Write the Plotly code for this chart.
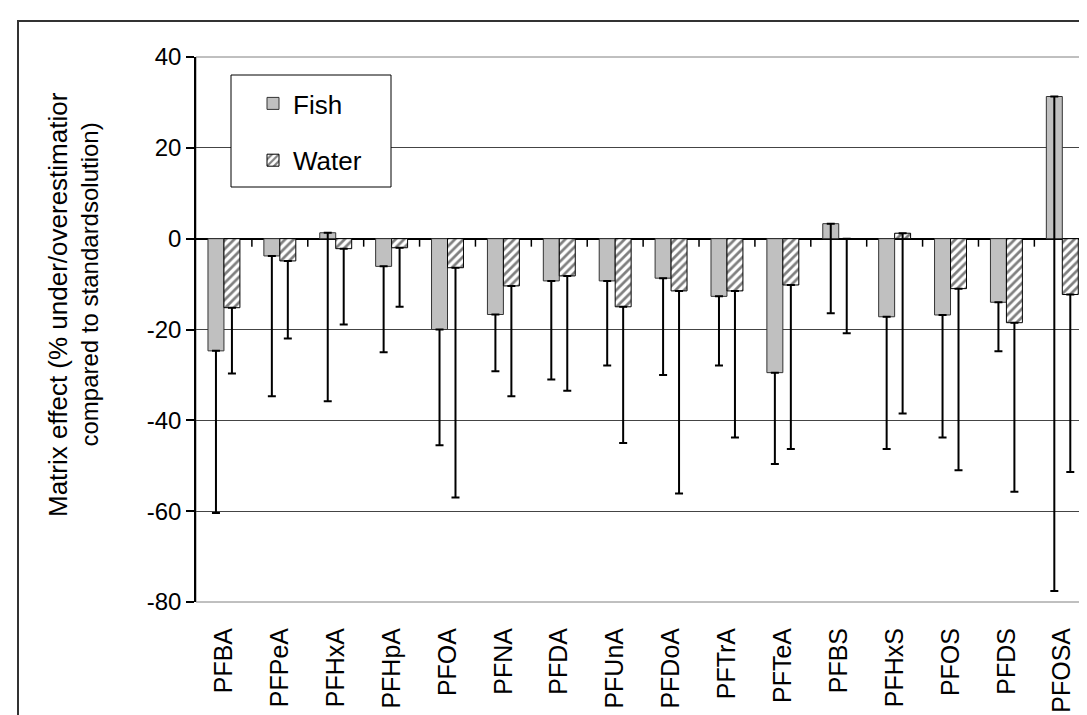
import plotly.graph_objects as go

# ---------------- data ----------------
categories = ["PFBA", "PFPeA", "PFHxA", "PFHpA", "PFOA", "PFNA", "PFDA", "PFUnA",
              "PFDoA", "PFTrA", "PFTeA", "PFBS", "PFHxS", "PFOS", "PFDS", "PFOSA"]
fish = [-24.7, -3.8, 1.3, -6.1, -20.0, -16.7, -9.3, -9.3,
        -8.7, -12.7, -29.5, 3.3, -17.2, -16.8, -14.0, 31.3]
fish_err_minus = [35.7, 30.9, 37.1, 18.9, 25.5, 12.5, 21.7, 18.6,
                  21.3, 15.2, 20.1, 19.7, 29.1, 27.0, 10.8, 108.9]
water = [-15.2, -4.9, -2.2, -2.0, -6.4, -10.4, -8.2, -15.0,
         -11.5, -11.5, -10.2, 0.0, 1.2, -11.0, -18.5, -12.3]
water_err_minus = [14.5, 17.1, 16.7, 13.0, 50.6, 24.3, 25.3, 30.0,
                   44.6, 32.3, 36.1, 20.8, 39.7, 40.0, 37.2, 39.1]
y_ticks = [-80, -60, -40, -20, 0, 20, 40]
y_title_1 = "Matrix effect (% under/overestimatior"
y_title_2 = "compared to standardsolution)"

# ---------------- layout geometry ----------------
W, H = 1087, 715
L, R, T, B = 188, 4, 49, 121
pw, ph = W - L - R, H - T - B


def px(x):
    return (x - L) / pw


def py(y):
    return (H - B - y) / ph


FONT = "Liberation Sans, Arial, sans-serif"

fig = go.Figure()
fig.add_trace(go.Bar(
    name="Fish", x=categories, y=fish,
    marker=dict(color="#c0c0c0", line=dict(color="#333333", width=1)),
    error_y=dict(type="data", symmetric=False, array=[0] * len(fish),
                 arrayminus=fish_err_minus, color="black", thickness=2, width=4),
    legendgroup="f",
))
fig.add_trace(go.Bar(
    name="Water", x=categories, y=water,
    marker=dict(color="white", line=dict(color="black", width=1),
                pattern=dict(shape="/", fgcolor="black", bgcolor="white",
                             size=6, solidity=0.45)),
    error_y=dict(type="data", symmetric=False, array=[0] * len(water),
                 arrayminus=water_err_minus, color="black", thickness=2, width=4),
    legendgroup="w",
))

shapes = []
# outer chart frame (right/bottom run off the page)
shapes.append(dict(type="rect", xref="paper", yref="paper",
                   x0=px(10), y0=py(H + 20), x1=px(W + 20), y1=py(13),
                   line=dict(color="#333333", width=2), layer="below"))
# plot area border
shapes.append(dict(type="rect", xref="paper", yref="paper", x0=0, y0=0, x1=1, y1=1,
                   line=dict(color="#808080", width=1), layer="below"))
# category tick marks on the zero line
for i in range(1, len(categories) + 1):
    shapes.append(dict(type="line", xref="x", yref="y", ysizemode="pixel", yanchor=0,
                       x0=i - 0.5, x1=i - 0.5, y0=0, y1=-8,
                       line=dict(color="black", width=1.5)))
# legend box
shapes.append(dict(type="rect", xref="paper", yref="paper",
                   x0=px(223), x1=px(383), y0=py(179), y1=py(67),
                   line=dict(color="black", width=1), fillcolor="white", layer="above"))

annotations = [
    dict(text=y_title_1, xref="paper", yref="paper", x=px(50), y=py(297),
         textangle=-90, showarrow=False, xanchor="center", yanchor="middle",
         font=dict(family=FONT, size=26, color="black")),
    dict(text=y_title_2, xref="paper", yref="paper", x=px(81), y=py(276.5),
         textangle=-90, showarrow=False, xanchor="center", yanchor="middle",
         font=dict(family=FONT, size=24, color="black")),
]

fig.update_layout(
    width=W, height=H,
    margin=dict(l=L, r=R, t=T, b=B, pad=0),
    paper_bgcolor="white", plot_bgcolor="white",
    barmode="group", bargap=1 - 32 / 56, bargroupgap=0,
    font=dict(family=FONT, size=24, color="black"),
    showlegend=True,
    legend=dict(x=px(245), y=py(72), xanchor="left", yanchor="top",
                bgcolor="rgba(0,0,0,0)", borderwidth=0,
                font=dict(family=FONT, size=26, color="black"),
                tracegroupgap=20, traceorder="grouped"),
    shapes=shapes,
    annotations=annotations,
)
fig.update_xaxes(
    type="category", categoryorder="array", categoryarray=categories,
    tickangle=-90, ticks="", showgrid=False, showline=False, zeroline=False,
    ticklabelstandoff=20, tickfont=dict(family=FONT, size=25, color="black"),
)
fig.update_yaxes(
    range=[-80, 40], tickmode="array", tickvals=y_ticks,
    ticktext=[str(v) for v in y_ticks],
    showgrid=True, gridcolor="#444444", gridwidth=1,
    zeroline=True, zerolinecolor="black", zerolinewidth=1.5,
    showline=True, linecolor="black", linewidth=1.5,
    ticks="outside", ticklen=8, tickwidth=1.5, tickcolor="black",
    tickfont=dict(family=FONT, size=24, color="black"),
)

fig.write_html("out.html")
